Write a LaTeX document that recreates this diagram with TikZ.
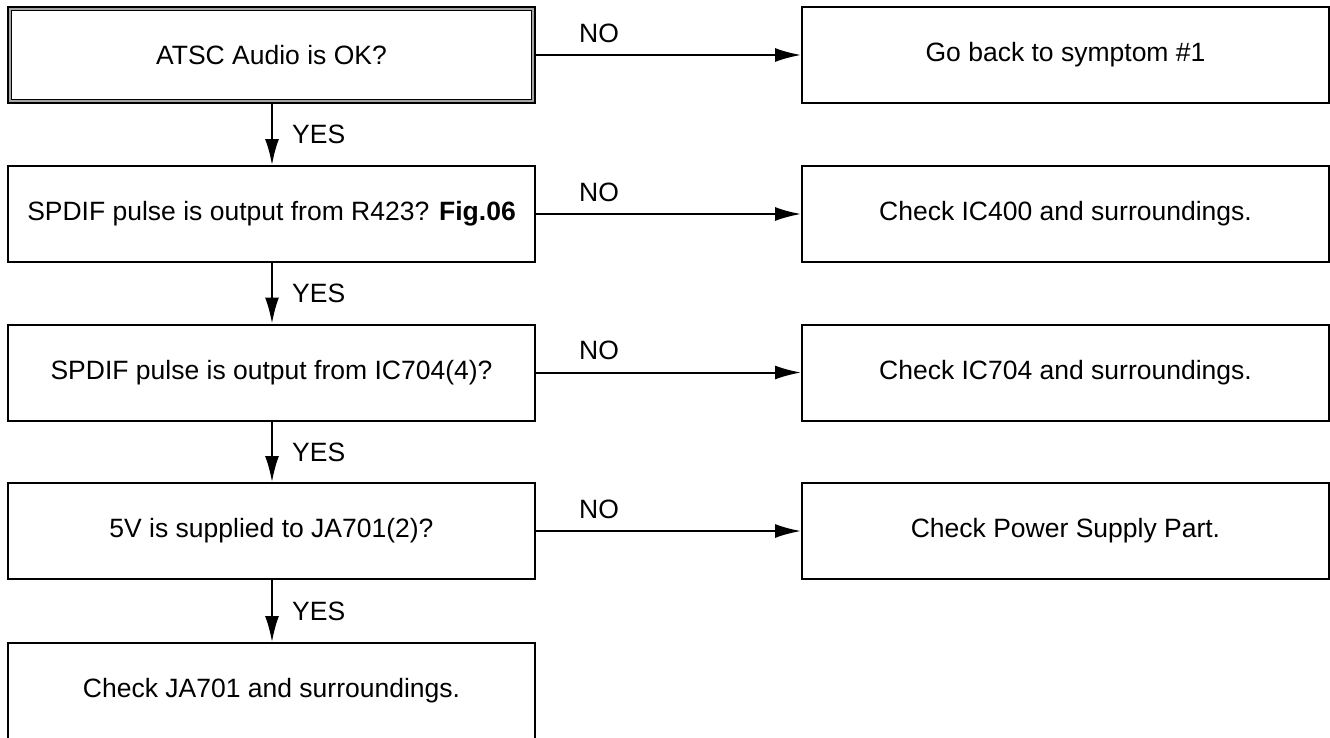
\documentclass[tikz,border=0pt]{standalone}
\usepackage{fontspec}
\setmainfont{Liberation Sans}
\usetikzlibrary{arrows.meta}
\begin{document}
\begin{tikzpicture}[x=1pt,y=-1pt,
  box/.style={draw=black,line width=2pt,minimum width=527pt,minimum height=96pt,inner sep=0pt,
    font=\fontsize{26.5}{31}\selectfont},
  lbl/.style={inner sep=0pt,font=\fontsize{26.5}{31}\selectfont},
  arr/.style={line width=2pt,-{Latex[length=26pt,width=14pt]}}]
\clip (0,0) rectangle (1330,737);
\fill[white] (0,0) rectangle (1330,737);
% left column
\node[box] (q1) at (271.5,55) {ATSC Audio is OK?};
\draw[gray!70,line width=2pt] ([xshift=3pt,yshift=-3pt]q1.north west) rectangle ([xshift=-3pt,yshift=3pt]q1.south east);
\draw[black,line width=1pt] ([xshift=4.5pt,yshift=-4.5pt]q1.north west) rectangle ([xshift=-4.5pt,yshift=4.5pt]q1.south east);
\node[box] (q2) at (271.5,214) {SPDIF pulse is output from R423? \textbf{Fig.06}};
\node[box] (q3) at (271.5,372.5) {SPDIF pulse is output from IC704(4)?};
\node[box] (q4) at (271.5,531) {5V is supplied to JA701(2)?};
\node[box] (q5) at (271.5,691) {Check JA701 and surroundings.};
% right column
\node[box] (r1) at (1065.5,55) {Go back to symptom \#1};
\node[box] (r2) at (1065.5,214) {Check IC400 and surroundings.};
\node[box] (r3) at (1065.5,372.5) {Check IC704 and surroundings.};
\node[box] (r4) at (1065.5,531) {Check Power Supply Part.};
% NO arrows
\draw[arr] (q1) -- (r1);
\draw[arr] (q2) -- (r2);
\draw[arr] (q3) -- (r3);
\draw[arr] (q4) -- (r4);
\node[lbl] (n1) at (599,33) {NO};
\node[lbl] (n2) at (599,192) {NO};
\node[lbl] (n3) at (599,350.5) {NO};
\node[lbl] (n4) at (599,509) {NO};
% YES arrows
\draw[arr] (q1.south -| 272,0) -- (q2.north -| 272,0);
\draw[arr] (q2.south -| 272,0) -- (q3.north -| 272,0);
\draw[arr] (q3.south -| 272,0) -- (q4.north -| 272,0);
\draw[arr] (q4.south -| 272,0) -- (q5.north -| 272,0);
\node[lbl,anchor=west] (y1) at (292,134) {YES};
\node[lbl,anchor=west] (y2) at (292,293) {YES};
\node[lbl,anchor=west] (y3) at (292,452) {YES};
\node[lbl,anchor=west] (y4) at (292,611) {YES};
\end{tikzpicture}
\end{document}
